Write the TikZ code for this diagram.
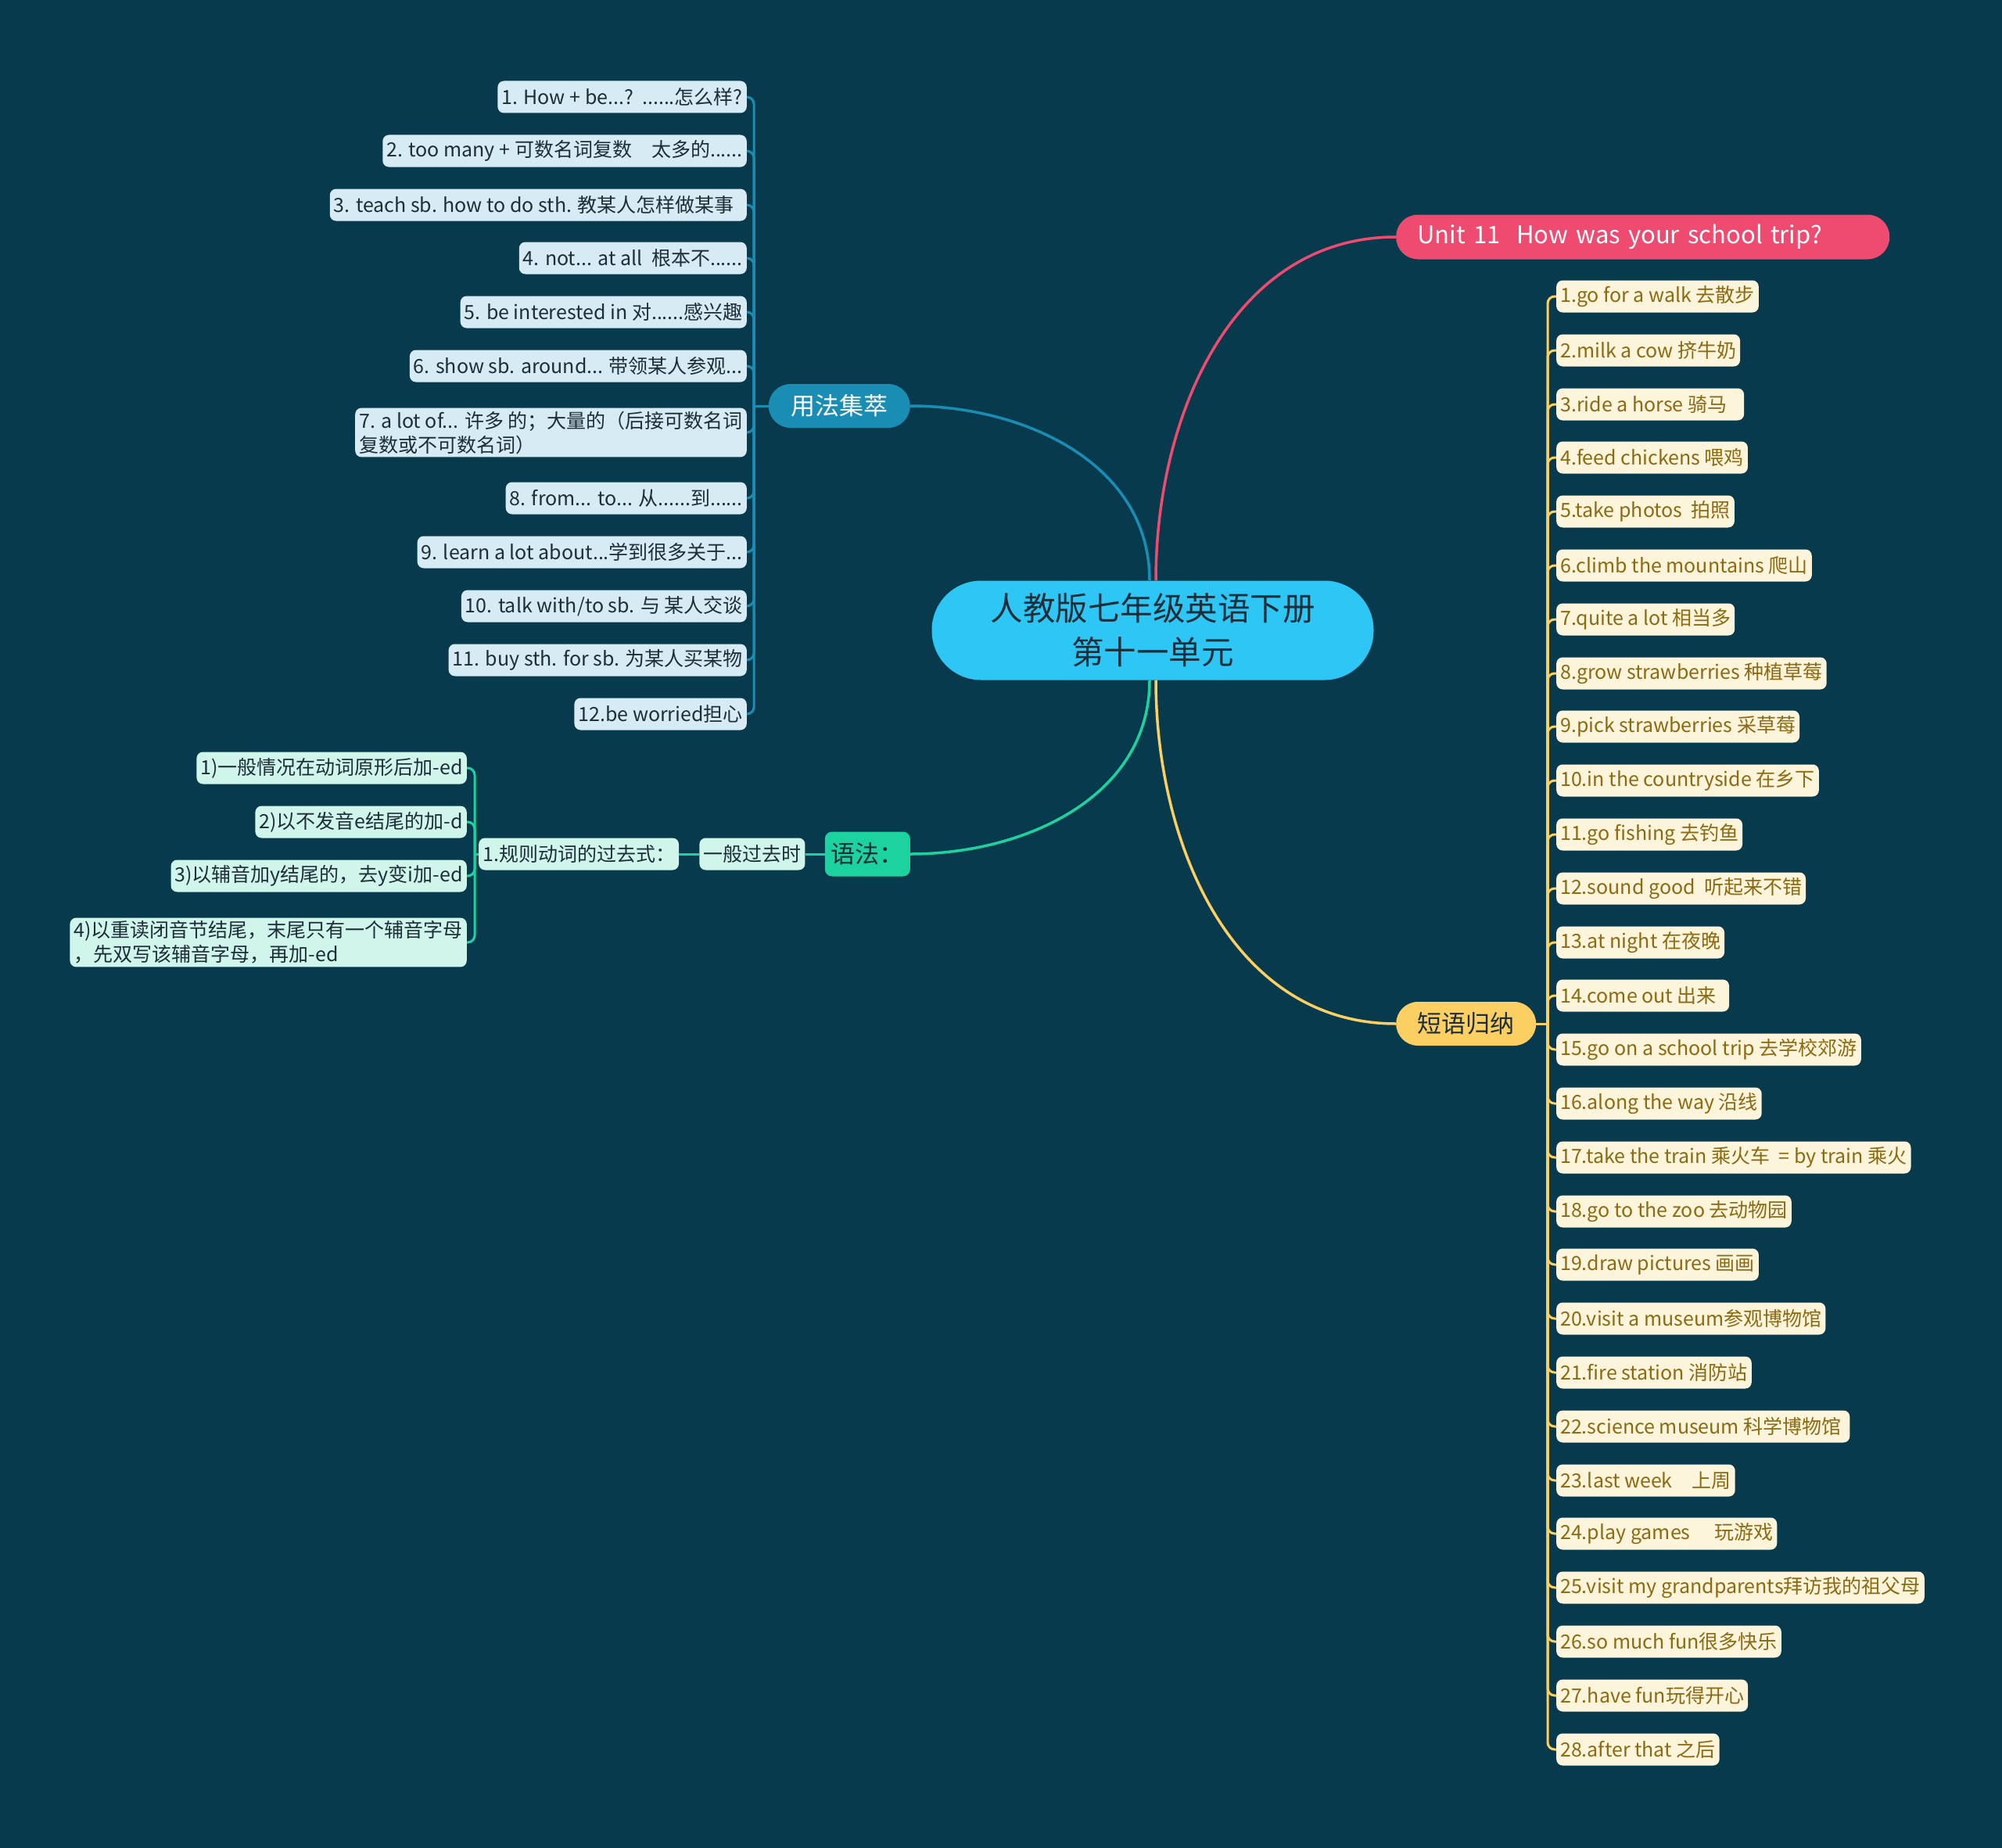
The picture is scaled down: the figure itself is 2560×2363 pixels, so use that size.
\documentclass[tikz,border=0pt]{standalone}
\usepackage{fontspec}
\setmainfont{Noto Sans CJK SC}
\usetikzlibrary{positioning}

\definecolor{bgc}{HTML}{083A4E}
\definecolor{rootc}{HTML}{2EC6F4}
\definecolor{pinkc}{HTML}{EF4A70}
\definecolor{bluec}{HTML}{1A8DB5}
\definecolor{greenc}{HTML}{1CD3A0}
\definecolor{yellc}{HTML}{FCCF63}
\definecolor{leafb}{HTML}{D6EBF3}
\definecolor{leafg}{HTML}{D0F5EA}
\definecolor{leafy}{HTML}{FDF4DC}
\definecolor{brownc}{HTML}{8C6A12}
\definecolor{inkc}{HTML}{1D2E38}

\begin{document}
\begin{tikzpicture}[
  x=1pt, y=-1pt,
  root/.style={fill=rootc, rounded corners=63pt, align=center,
    minimum width=565pt, minimum height=127pt, text=inkc,
    font=\fontsize{41.5}{56}\selectfont},
  topic/.style={rounded corners=28pt, minimum height=56pt,
    minimum width=181pt, font=\fontsize{31}{36}\selectfont},
  leaf/.style={rounded corners=8pt, minimum height=41pt, inner xsep=5pt,
    inner ysep=4pt, align=left, font=\fontsize{25}{31}\selectfont},
  ub/.style={leaf, fill=leafb, text=inkc, anchor=east},
  gm/.style={leaf, fill=leafg, text=inkc},
  py/.style={leaf, fill=leafy, text=brownc, anchor=west},
  main/.style={line width=3.5pt},
  twig/.style={line width=3pt, rounded corners=9pt}
]
  \fill[bgc] (0,0) rectangle (2560,2363);
  \useasboundingbox (0,0) rectangle (2560,2363);

  % centre and main topics
  \node[root] (root) at (1474,806) {人教版七年级英语下册\\第十一单元};
  \node[fill=pinkc, rounded corners=28pt, minimum height=57pt, text=white,
    text width=577pt, inner xsep=27pt, align=left,
    font=\fontsize{31}{36}\selectfont, anchor=west] (unit) at (1785,303)
    {Unit 11\ \ How was your school trip?};
  \node[topic, fill=bluec, text=white, anchor=east] (yf) at (1164,519) {用法集萃};
  \node[topic, fill=greenc, text=inkc, rounded corners=9pt, minimum height=57pt,
    minimum width=109pt, anchor=east] (yu) at (1164,1092) {语法：};
  \node[topic, fill=yellc, text=inkc, minimum width=179pt, anchor=west] (dy)
    at (1785,1309) {短语归纳};

  \draw[main, bluec] ([xshift=-4pt]root.north) to[out=90, in=0] (yf.east);
  \draw[main, pinkc] ([xshift=4pt]root.north) to[out=90, in=180] (unit.west);
  \draw[main, greenc] ([xshift=-4pt]root.south) to[out=-90, in=0] (yu.east);
  \draw[main, yellc] ([xshift=4pt]root.south) to[out=-90, in=180] (dy.west);

  % usage
  \node[ub] (u1) at (955,124) {1. How + be...?\ \ ......怎么样?};
  \node[ub] (u2) at (955,193) {2. too many + 可数名词复数\quad 太多的......};
  \node[ub] (u3) at (955,262) {3. teach sb. how to do sth. 教某人怎样做某事\ \ };
  \node[ub] (u4) at (955,330) {4. not... at all\ \ 根本不......};
  \node[ub] (u5) at (955,399) {5. be interested in 对......感兴趣};
  \node[ub] (u6) at (955,468) {6. show sb. around... 带领某人参观...};
  \node[ub] (u7) at (955,553) {7. a lot of... 许多 的；大量的（后接可数名词\\复数或不可数名词）};
  \node[ub] (u8) at (955,637) {8. from... to... 从......到......};
  \node[ub] (u9) at (955,706) {9. learn a lot about...学到很多关于...};
  \node[ub] (u10) at (955,775) {10. talk with/to sb. 与 某人交谈};
  \node[ub] (u11) at (955,844) {11. buy sth. for sb. 为某人买某物};
  \node[ub] (u12) at (955,913) {12.be worried担心};

  \coordinate (ut) at (964,519);
  \draw[twig, bluec] (yf.west) -- (ut);
  \foreach \i in {1,...,12}
    \draw[twig, bluec] (ut) |- (u\i.east);

  % grammar
  \node[gm, left=25pt of yu] (gs) {一般过去时};
  \node[gm, left=26pt of gs] (gr) {1.规则动词的过去式：};
  \node[gm, anchor=east] (g1) at (597,982) {1)一般情况在动词原形后加-ed};
  \node[gm, anchor=east] (g2) at (597,1051) {2)以不发音e结尾的加-d};
  \node[gm, anchor=east] (g3) at (597,1120) {3)以辅音加y结尾的，去y变i加-ed};
  \node[gm, anchor=east] (g4) at (597,1205) {4)以重读闭音节结尾，末尾只有一个辅音字母\\，先双写该辅音字母，再加-ed};

  \coordinate (gt) at (607,1092);
  \draw[twig, greenc] (yu.west) -- (gs.east);
  \draw[twig, greenc] (gs.west) -- (gr.east);
  \draw[twig, greenc] (gr.west) -- (gt);
  \foreach \i in {1,...,4}
    \draw[twig, greenc] (gt) |- (g\i.east);

  % phrases
  \node[py] (p1) at (1990,379) {1.go for a walk 去散步};
  \node[py] (p2) at (1990,448) {2.milk a cow 挤牛奶};
  \node[py] (p3) at (1990,517) {3.ride a horse 骑马\ \ \ };
  \node[py] (p4) at (1990,585) {4.feed chickens 喂鸡};
  \node[py] (p5) at (1990,654) {5.take photos\ \ 拍照};
  \node[py] (p6) at (1990,723) {6.climb the mountains 爬山};
  \node[py] (p7) at (1990,792) {7.quite a lot 相当多};
  \node[py] (p8) at (1990,861) {8.grow strawberries 种植草莓};
  \node[py] (p9) at (1990,929) {9.pick strawberries 采草莓};
  \node[py] (p10) at (1990,998) {10.in the countryside 在乡下};
  \node[py] (p11) at (1990,1067) {11.go fishing 去钓鱼};
  \node[py] (p12) at (1990,1136) {12.sound good\ \ 听起来不错};
  \node[py] (p13) at (1990,1205) {13.at night 在夜晚};
  \node[py] (p14) at (1990,1273) {14.come out 出来\ \ };
  \node[py] (p15) at (1990,1342) {15.go on a school trip 去学校郊游};
  \node[py] (p16) at (1990,1411) {16.along the way 沿线};
  \node[py] (p17) at (1990,1480) {17.take the train 乘火车\ \ = by train 乘火};
  \node[py] (p18) at (1990,1549) {18.go to the zoo 去动物园};
  \node[py] (p19) at (1990,1617) {19.draw pictures 画画};
  \node[py] (p20) at (1990,1686) {20.visit a museum参观博物馆};
  \node[py] (p21) at (1990,1755) {21.fire station 消防站};
  \node[py] (p22) at (1990,1824) {22.science museum 科学博物馆\ };
  \node[py] (p23) at (1990,1893) {23.last week\quad 上周};
  \node[py] (p24) at (1990,1961) {24.play games\quad\ 玩游戏};
  \node[py] (p25) at (1990,2030) {25.visit my grandparents拜访我的祖父母};
  \node[py] (p26) at (1990,2099) {26.so much fun很多快乐};
  \node[py] (p27) at (1990,2168) {27.have fun玩得开心};
  \node[py] (p28) at (1990,2237) {28.after that 之后};

  \coordinate (pt) at (1979,1309);
  \draw[twig, yellc] (dy.east) -- (pt);
  \foreach \i in {1,...,28}
    \draw[twig, yellc] (pt) |- (p\i.west);
\end{tikzpicture}
\end{document}
